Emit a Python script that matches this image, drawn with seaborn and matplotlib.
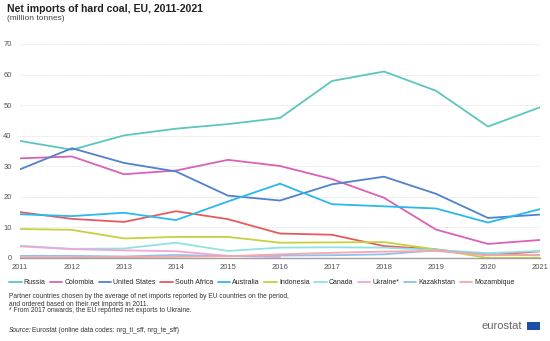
import numpy as np
import pandas as pd
import matplotlib
matplotlib.use("Agg")
import matplotlib.pyplot as plt
import seaborn as sns
from matplotlib.lines import Line2D
from matplotlib.patches import Rectangle

years = list(range(2011, 2022))
countries = ["Russia", "Colombia", "United States", "South Africa", "Australia",
             "Indonesia", "Canada", "Ukraine*", "Kazakhstan", "Mozambique"]

russia = [38.3, 35.4, 40.1, 42.3, 43.8, 45.8, 57.9, 61.0, 54.7, 43.0, 49.3]
colombia = [32.6, 33.2, 27.4, 28.6, 32.1, 30.1, 25.8, 19.7, 9.3, 4.6, 5.9]
united_states = [29.0, 35.9, 31.1, 28.3, 20.4, 18.8, 24.1, 26.6, 21.0, 13.1, 14.2]
south_africa = [15.0, 12.8, 11.8, 15.3, 12.7, 8.0, 7.6, 3.9, 2.8, 0.9, 2.2]
australia = [14.3, 13.7, 14.8, 12.4, 18.5, 24.3, 17.6, 16.9, 16.2, 11.6, 16.0]
indonesia = [9.5, 9.2, 6.4, 6.9, 6.9, 5.0, 5.1, 5.2, 2.8, 0.0, 0.1]
canada = [4.0, 3.0, 3.1, 5.0, 2.3, 3.4, 3.5, 3.4, 2.6, 1.6, 2.3]
ukraine = [3.8, 2.9, 2.5, 2.2, 0.7, 0.3, np.nan, np.nan, np.nan, np.nan, np.nan]
kazakhstan = [0.7, 0.7, 0.5, 1.0, 0.6, 0.8, 0.9, 1.2, 2.5, 1.2, 0.9]
mozambique = [0.2, 0.2, 0.3, 0.4, 0.6, 1.2, 1.7, 2.1, 2.3, 0.9, 1.0]

colors = ["#5CC6BE", "#D862B5", "#4F82CC", "#E65A5E", "#2BB8EE",
          "#C9D03E", "#8FE3E3", "#F2A6D6", "#93BEEE", "#F6A7A7"]

series = [russia, colombia, united_states, south_africa, australia,
          indonesia, canada, ukraine, kazakhstan, mozambique]
rows = []
for c, vals in zip(countries, series):
    for y, v in zip(years, vals):
        rows.append({"year": y, "value": v, "country": c})
df = pd.DataFrame(rows)

sns.set_style("white")
plt.rcParams['font.family'] = ['Arial', 'Liberation Sans', 'DejaVu Sans']

fig = plt.figure(figsize=(5.5, 3.41), dpi=100)
ax = fig.add_axes([20/550, 1-258/341, 520/550, 214/341])

sns.lineplot(data=df, x="year", y="value", hue="country", hue_order=countries,
             palette=colors, linewidth=1.3, ax=ax, legend=False, sort=True)

ax.set_xlim(2011, 2021)
ax.set_ylim(0, 70)
ax.set_yticks(range(0, 71, 10))
ax.set_xticks(years)
ax.set_xticklabels([str(y) for y in years])
ax.set_xlabel("")
ax.set_ylabel("")
ax.yaxis.grid(True, color="#d9d9d9", linestyle=(0, (1, 1)), linewidth=0.6)
ax.set_axisbelow(True)
for s in ["top", "right", "left"]:
    ax.spines[s].set_visible(False)
ax.spines["bottom"].set_color("#a0a0a0")
ax.spines["bottom"].set_linewidth(1.0)
ax.tick_params(axis="y", length=0, labelsize=5.5, labelcolor="#555555", pad=6)
ax.tick_params(axis="x", length=2, color="#a0a0a0", labelsize=5.5, labelcolor="#555555", pad=2)

fig.text(7/550, 1-9/341, "Net imports of hard coal, EU, 2011-2021", fontsize=7.6,
         fontweight="bold", color="#222222", va="center")
fig.text(7/550, 1-19/341, "(million tonnes)", fontsize=6, color="#444444", va="center")

handles = [Line2D([0], [0], color=c, lw=1.3) for c in colors]
fig.legend(handles, countries, loc="center left", bbox_to_anchor=(9/550, 1-283/341), ncol=10,
           frameon=False, fontsize=5.0, handlelength=1.8, handletextpad=0.3,
           columnspacing=0.65, borderaxespad=0, borderpad=0)

fn = 4.8
fig.text(9/550, 1-297/341, "Partner countries chosen by the average of net imports reported by EU countries on the period,",
         fontsize=fn, color="#333333", va="center")
fig.text(9/550, 1-304/341, "and ordered based on their net imports in 2011.",
         fontsize=fn, color="#333333", va="center")
fig.text(9/550, 1-311/341, "* From 2017 onwards, the EU reported net exports to Ukraine.",
         fontsize=fn, color="#333333", va="center")
fig.text(9/550, 1-330/341, "Source:", fontsize=fn, color="#333333", va="center", style="italic")
fig.text(32/550, 1-330/341, "Eurostat (online data codes: nrg_ti_sff, nrg_te_sff)",
         fontsize=fn, color="#333333", va="center")

fig.text(482/550, 1-326/341, "eurostat", fontsize=8, color="#666666", va="center")
fig.patches.append(Rectangle((527/550, 1-330/341), 13/550, 8/341, transform=fig.transFigure,
                             facecolor="#1F4EAA", edgecolor="none"))

fig.savefig("out.png", dpi=100)
